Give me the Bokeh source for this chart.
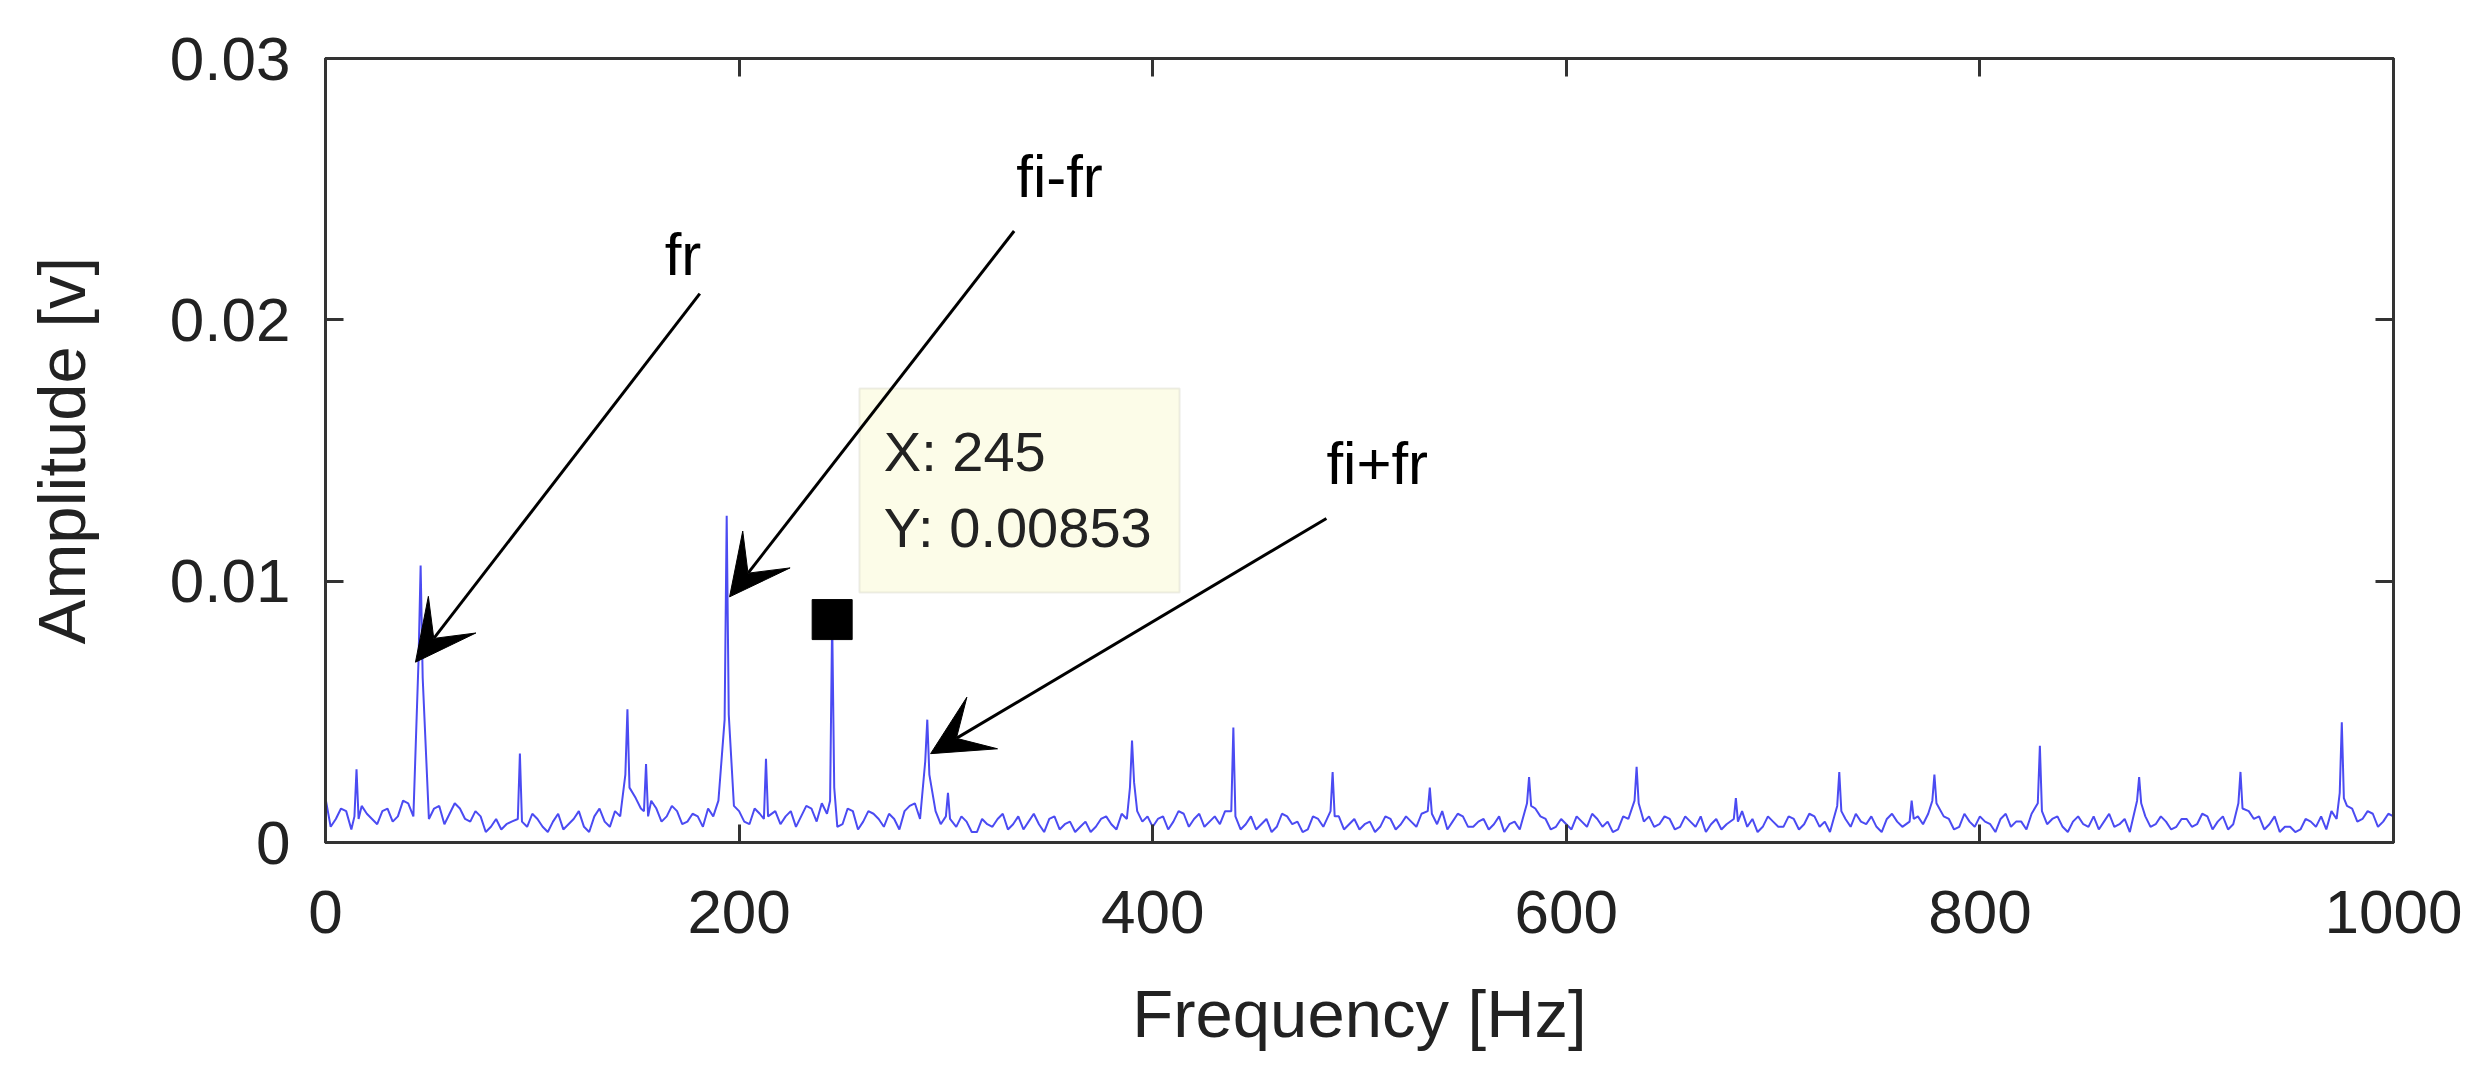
from bokeh.plotting import figure
from bokeh.models import (Range1d, FixedTicker, LinearAxis, Arrow, VeeHead, Label,
                          BoxAnnotation, CustomLabelingPolicy)
from bokeh.embed import file_html
from bokeh.resources import INLINE

# ---------------- data ----------------
x_ticks = [0, 200, 400, 600, 800, 1000]
x_tick_labels = ["0", "200", "400", "600", "800", "1000"]
y_ticks = [0, 0.01, 0.02, 0.03]
y_tick_labels = ["0", "0.01", "0.02", "0.03"]

# noise floor sampled every 5 Hz (0 .. 1000 Hz)
floor_freq = list(range(0, 1001, 5))
floor_amp = [
    0.0017, 0.0009, 0.0012, 0.0008, 0.0011, 0.0007, 0.0013, 0.0010, 0.0015, 0.0012,
    0.0009, 0.0014, 0.0011, 0.0013, 0.0008, 0.0010, 0.0006, 0.0005, 0.0008, 0.0009,
    0.0011, 0.0006, 0.0008, 0.0005, 0.0009, 0.0006, 0.0010, 0.0008, 0.0012, 0.0015,
    0.0017, 0.0011, 0.0013, 0.0010, 0.0012, 0.0008, 0.0010, 0.0013, 0.0016, 0.0019,
    0.0012, 0.0007, 0.0011, 0.0009, 0.0007, 0.0012, 0.0010, 0.0013, 0.0015, 0.0010,
    0.0007, 0.0012, 0.0008, 0.0011, 0.0006, 0.0009, 0.0012, 0.0015, 0.0014, 0.0012,
    0.0011, 0.0006, 0.0008, 0.0004, 0.0007, 0.0009, 0.0005, 0.0010, 0.0008, 0.0007,
    0.0009, 0.0005, 0.0008, 0.0006, 0.0004, 0.0009, 0.0007, 0.0011, 0.0014, 0.0008,
    0.0006, 0.0010, 0.0008, 0.0011, 0.0009, 0.0006, 0.0010, 0.0012, 0.0009, 0.0007,
    0.0005, 0.0009, 0.0006, 0.0010, 0.0008, 0.0005, 0.0009, 0.0011, 0.0010, 0.0007,
    0.0005, 0.0008, 0.0006, 0.0009, 0.0007, 0.0008, 0.0011, 0.0013, 0.0012, 0.0008,
    0.0010, 0.0006, 0.0009, 0.0007, 0.0004, 0.0008, 0.0011, 0.0013, 0.0009, 0.0006,
    0.0007, 0.0010, 0.0006, 0.0009, 0.0008, 0.0005, 0.0009, 0.0012, 0.0010, 0.0007,
    0.0009, 0.0006, 0.0008, 0.0010, 0.0007, 0.0005, 0.0008, 0.0012, 0.0009, 0.0006,
    0.0008, 0.0006, 0.0009, 0.0007, 0.0010, 0.0008, 0.0005, 0.0009, 0.0011, 0.0007,
    0.0006, 0.0009, 0.0008, 0.0012, 0.0010, 0.0011, 0.0007, 0.0009, 0.0006, 0.0008,
    0.0010, 0.0007, 0.0009, 0.0006, 0.0008, 0.0011, 0.0013, 0.0009, 0.0006, 0.0008,
    0.0007, 0.0010, 0.0008, 0.0006, 0.0009, 0.0012, 0.0010, 0.0007, 0.0008, 0.0006,
    0.0009, 0.0007, 0.0010, 0.0008, 0.0005, 0.0009, 0.0012, 0.0010, 0.0007, 0.0004,
    0.0006, 0.0005, 0.0008, 0.0010, 0.0012, 0.0011, 0.0013, 0.0009, 0.0011, 0.0008,
    0.0010,
]
# intermediate noise bins (2.5, 7.5, ... 997.5 Hz)
mid_freq = [f + 2.5 for f in range(0, 1000, 5)]
mid_amp = [
    0.0006, 0.0013, 0.0005, 0.0014, 0.0009, 0.0012, 0.0008, 0.0016, 0.0010, 0.0018,
    0.0013, 0.0007, 0.0015, 0.0009, 0.0012, 0.0004, 0.0009, 0.0007, 0.0012, 0.0006,
    0.0009, 0.0004, 0.0011, 0.0007, 0.0012, 0.0004, 0.0013, 0.0006, 0.0010, 0.0019,
    0.0013, 0.0016, 0.0008, 0.0014, 0.0007, 0.0011, 0.0006, 0.0010, 0.0021, 0.0014,
    0.0008, 0.0013, 0.0006, 0.0012, 0.0010, 0.0006, 0.0014, 0.0008, 0.0011, 0.0006,
    0.0013, 0.0005, 0.0012, 0.0009, 0.0011, 0.0005, 0.0014, 0.0009, 0.0016, 0.0007,
    0.0008, 0.0010, 0.0004, 0.0009, 0.0006, 0.0011, 0.0007, 0.0005, 0.0011, 0.0004,
    0.0010, 0.0007, 0.0004, 0.0008, 0.0006, 0.0010, 0.0005, 0.0009, 0.0012, 0.0010,
    0.0009, 0.0005, 0.0012, 0.0006, 0.0011, 0.0008, 0.0007, 0.0009, 0.0005, 0.0010,
    0.0007, 0.0004, 0.0011, 0.0007, 0.0004, 0.0010, 0.0006, 0.0008, 0.0005, 0.0009,
    0.0007, 0.0004, 0.0010, 0.0005, 0.0010, 0.0006, 0.0009, 0.0007, 0.0005, 0.0011,
    0.0006, 0.0008, 0.0005, 0.0010, 0.0007, 0.0005, 0.0009, 0.0010, 0.0005, 0.0009,
    0.0005, 0.0008, 0.0011, 0.0006, 0.0004, 0.0010, 0.0007, 0.0008, 0.0006, 0.0010,
    0.0005, 0.0010, 0.0006, 0.0004, 0.0009, 0.0007, 0.0010, 0.0006, 0.0004, 0.0010,
    0.0006, 0.0010, 0.0005, 0.0011, 0.0006, 0.0004, 0.0010, 0.0006, 0.0008, 0.0010,
    0.0004, 0.0011, 0.0006, 0.0009, 0.0007, 0.0005, 0.0010, 0.0005, 0.0011, 0.0006,
    0.0008, 0.0004, 0.0011, 0.0008, 0.0005, 0.0009, 0.0007, 0.0010, 0.0004, 0.0010,
    0.0006, 0.0005, 0.0011, 0.0007, 0.0004, 0.0008, 0.0006, 0.0010, 0.0005, 0.0009,
    0.0006, 0.0011, 0.0005, 0.0010, 0.0007, 0.0006, 0.0009, 0.0005, 0.0010, 0.0006,
    0.0004, 0.0009, 0.0006, 0.0005, 0.0009, 0.0014, 0.0008, 0.0012, 0.0006, 0.0011,
]

# spectral peaks: centre frequency, peak amplitude, amplitude of the bins either side
peak_freq = [15, 46, 94, 146, 155, 194, 213, 245, 291, 301, 390, 439,
             487, 534, 582, 634, 682, 732, 767, 778, 829, 877, 926, 975]
peak_amp = [0.0028, 0.0106, 0.0034, 0.0051, 0.0030, 0.0125, 0.0032, 0.00853,
            0.0047, 0.0019, 0.0039, 0.0044, 0.0027, 0.0021, 0.0025, 0.0029,
            0.0017, 0.0027, 0.0016, 0.0026, 0.0037, 0.0025, 0.0027, 0.0046]
peak_left = [0.0010, 0.0070, 0.0009, 0.0026, 0.0012, 0.0047, 0.0009, 0.0016,
             0.0031, 0.0010, 0.0021, 0.0012, 0.0012, 0.0012, 0.0015, 0.0016,
             0.0009, 0.0014, 0.0008, 0.0016, 0.0015, 0.0016, 0.0015, 0.0019]
peak_right = [0.0009, 0.0063, 0.0008, 0.0021, 0.0010, 0.0049, 0.0010, 0.0021,
              0.0026, 0.0009, 0.0023, 0.0010, 0.0010, 0.0011, 0.0014, 0.0015,
              0.0008, 0.0012, 0.0009, 0.0015, 0.0012, 0.0015, 0.0013, 0.0017]

# data tip
tip_x = 245
tip_y = 0.00853

# annotation arrows (start -> tip) and labels
arrow_labels = ["fr", "fi-fr", "fi+fr"]
arrow_x_start = [181.0, 333.0, 484.0]
arrow_y_start = [0.0210, 0.0234, 0.0124]
arrow_x_end = [43.5, 195.4, 292.6]
arrow_y_end = [0.0069, 0.0094, 0.0034]
label_x = [164.0, 334.0, 484.0]
label_y = [0.0225, 0.0255, 0.0145]

# ---------------- build series ----------------
pts = []
for f, a in list(zip(floor_freq, floor_amp)) + list(zip(mid_freq, mid_amp)):
    if min(abs(f - pf) for pf in peak_freq) > 2:
        pts.append((f, a))
for pf, pa, pl, pr in zip(peak_freq, peak_amp, peak_left, peak_right):
    pts += [(pf - 1, pl), (pf, pa), (pf + 1, pr)]
pts.sort()
freq = [q[0] for q in pts]
amp = [q[1] for q in pts]

FONT = "Liberation Sans"
TXT = "#222222"
FRAME = "#333333"

p = figure(width=2474, height=1074,
           x_range=Range1d(0, 1000), y_range=Range1d(0, 0.03),
           output_backend="svg", toolbar_location=None,
           min_border_left=325, min_border_right=81,
           min_border_top=58, min_border_bottom=232)
p.xgrid.visible = False
p.ygrid.visible = False
p.background_fill_color = "white"
p.border_fill_color = "white"
p.outline_line_color = FRAME
p.outline_line_width = 3

p.line(freq, amp, line_color="#4b4bf2", line_width=2)
p.scatter([tip_x], [tip_y], marker="square", size=40, fill_color="black", line_color="black")

def style_axis(ax, ticks, labels, show):
    ax.ticker = FixedTicker(ticks=ticks)
    ax.major_label_overrides = {t: l for t, l in zip(ticks, labels)}
    ax.minor_tick_line_color = None
    ax.major_tick_in = 18
    ax.major_tick_out = 0
    ax.major_tick_line_width = 3
    ax.major_tick_line_color = FRAME
    ax.axis_line_color = FRAME
    ax.axis_line_width = 3
    ax.major_label_text_font = FONT
    ax.major_label_text_color = TXT
    if show:
        ax.major_label_text_font_size = "62px"
    else:
        ax.major_label_text_font_size = "1px"
        ax.major_label_standoff = 0
        ax.major_label_policy = CustomLabelingPolicy(
            code="for (const i of indices) { indices.unset(i) }\nreturn indices")

xa = p.below[0]
ya = p.left[0]
style_axis(xa, x_ticks, x_tick_labels, True)
style_axis(ya, y_ticks, y_tick_labels, True)
xa.major_label_standoff = 48
ya.major_label_standoff = 35
xa.axis_label = "Frequency [Hz]"
ya.axis_label = "Amplitude [v]"
for ax in (xa, ya):
    ax.axis_label_text_font = FONT
    ax.axis_label_text_font_style = "normal"
    ax.axis_label_text_font_size = "67px"
    ax.axis_label_text_color = TXT
xa.axis_label_standoff = 40
ya.axis_label_standoff = 68

top = LinearAxis()
right = LinearAxis()
style_axis(top, x_ticks, x_tick_labels, False)
style_axis(right, y_ticks, y_tick_labels, False)
p.add_layout(top, "above")
p.add_layout(right, "right")

# data tip box
p.add_layout(BoxAnnotation(left=258.2, right=413.0, top=0.01737, bottom=0.00957,
                           fill_color="#fcfce8", fill_alpha=1.0,
                           line_color="#c8c8b6", line_width=2))
p.add_layout(Label(x=270.0, y=0.01495, text=f"X: {tip_x}", text_font=FONT,
                   text_font_size="56px", text_color=TXT, text_baseline="alphabetic"))
p.add_layout(Label(x=270.0, y=0.01207, text=f"Y: {tip_y}", text_font=FONT,
                   text_font_size="56px", text_color=TXT, text_baseline="alphabetic"))

for xs, ys, xe, ye in zip(arrow_x_start, arrow_y_start, arrow_x_end, arrow_y_end):
    p.add_layout(Arrow(x_start=xs, y_start=ys, x_end=xe, y_end=ye,
                       line_color="black", line_width=3,
                       end=VeeHead(size=60, fill_color="black", line_color="black", line_width=1)))
for t, lx, ly in zip(arrow_labels, label_x, label_y):
    p.add_layout(Label(x=lx, y=ly, text=t, text_font=FONT, text_font_size="60px",
                       text_color="black", text_baseline="alphabetic"))

open("out.html", "w").write(file_html(p, INLINE))
